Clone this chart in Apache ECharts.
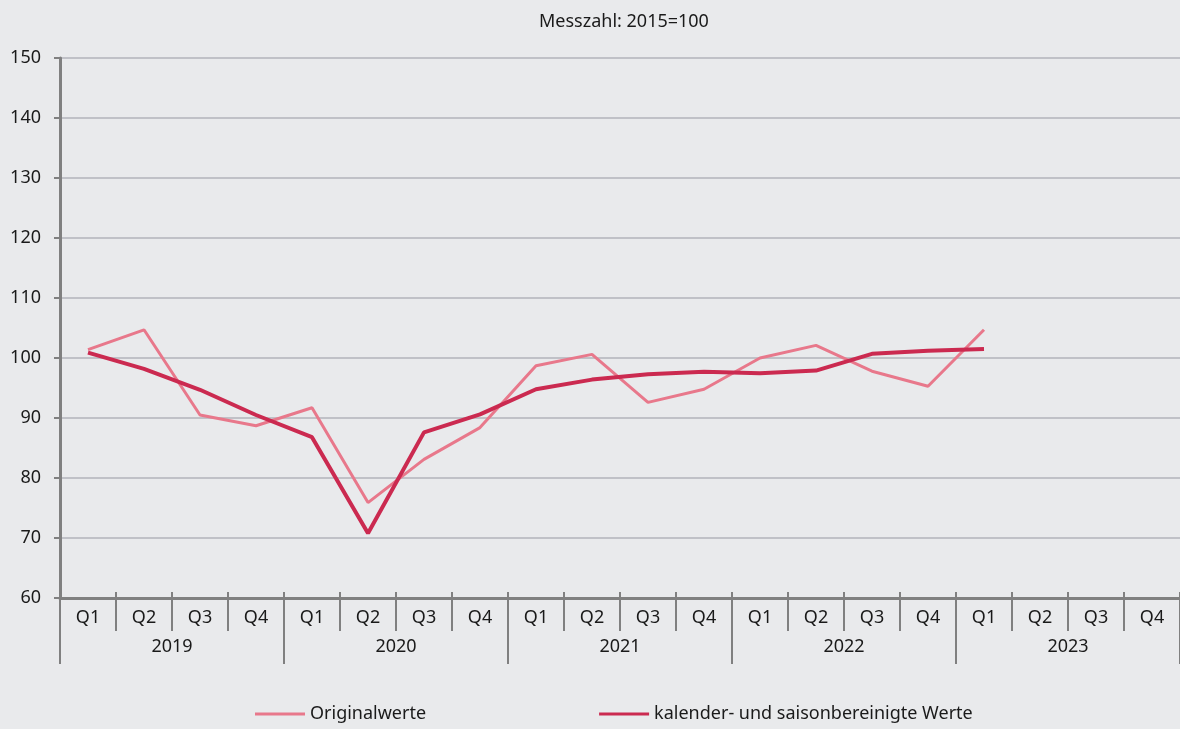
<!DOCTYPE html>
<html>
<head>
<meta charset="utf-8">
<script src="https://cdn.jsdelivr.net/npm/echarts@6/dist/echarts.min.js"></script>
<style>
  html, body { margin: 0; padding: 0; background: #e9eaec; }
  #chart { width: 1180px; height: 729px; }
</style>
</head>
<body>
<div id="chart"></div>
<script>
const quarters = [
  'Q1', 'Q2', 'Q3', 'Q4', 'Q1', 'Q2', 'Q3', 'Q4', 'Q1', 'Q2',
  'Q3', 'Q4', 'Q1', 'Q2', 'Q3', 'Q4', 'Q1', 'Q2', 'Q3', 'Q4'
]
const years = ['2019', '2020', '2021', '2022', '2023']
const originalwerte = [
  101.4, 104.7, 90.5, 88.7, 91.7, 75.9, 83.1, 88.4, 98.7, 100.6,
  92.6, 94.8, 100.0, 102.1, 97.8, 95.3, 104.7, null, null, null
]
const bereinigt = [
  100.9, 98.2, 94.7, 90.5, 86.8, 70.8, 87.6, 90.6, 94.8, 96.4,
  97.3, 97.7, 97.45, 97.9, 100.7, 101.2, 101.5, null, null, null
]

const font = 'Noto Sans'
const axisGrey = '#808080'
const textColor = '#1a1a1a'

const chart = echarts.init(document.getElementById('chart'))
chart.setOption({
  backgroundColor: '#e9eaec',
  textStyle: { fontFamily: font },
  title: {
    text: 'Messzahl: 2015=100',
    left: 534,
    top: 8,
    textStyle: { fontFamily: font, fontSize: 18, fontWeight: 'normal', color: textColor }
  },
  legend: {
    bottom: 1,
    left: 250,
    icon: 'rect',
    itemWidth: 50,
    itemHeight: 3,
    itemGap: 173,
    textStyle: { fontFamily: font, fontSize: 18, color: textColor },
    data: ['Originalwerte', 'kalender- und saisonbereinigte Werte']
  },
  grid: {
    left: 60,
    right: 0,
    top: 58,
    bottom: 131
  },
  xAxis: [{
    // quarter labels + axis line
    type: 'category',
    data: quarters,
    boundaryGap: true,
    axisLine: { lineStyle: { color: axisGrey, width: 3 } },
    axisTick: { show: false },
    axisLabel: { interval: 0, margin: 11, fontSize: 18, color: textColor, fontFamily: font },
    splitLine: { show: false }
  }, {
    // quarter separators, reaching a little above the axis
    type: 'category',
    data: quarters,
    position: 'bottom',
    offset: -6,
    boundaryGap: true,
    axisLine: { show: false },
    axisTick: { show: true, interval: 0, length: 39, lineStyle: { color: axisGrey, width: 2 } },
    axisLabel: { show: false },
    splitLine: { show: false }
  }, {
    // year separators + labels
    type: 'category',
    data: years,
    position: 'bottom',
    offset: -6,
    boundaryGap: true,
    axisLine: { show: false },
    axisTick: { show: true, interval: 0, length: 72, lineStyle: { color: axisGrey, width: 2 } },
    axisLabel: { interval: 0, margin: 46, fontSize: 18, color: textColor, fontFamily: font },
    splitLine: { show: false }
  }],
  yAxis: {
    type: 'value',
    min: 60,
    max: 150,
    interval: 10,
    axisLine: { show: true, lineStyle: { color: axisGrey, width: 3 } },
    axisTick: { show: true, length: 6, lineStyle: { color: axisGrey, width: 2 } },
    axisLabel: { margin: 19, fontSize: 18, color: textColor, fontFamily: font },
    splitLine: { lineStyle: { color: '#c0c1c7', width: 2 } }
  },
  series: [{
    name: 'Originalwerte',
    type: 'line',
    data: originalwerte,
    showSymbol: false,
    symbol: 'none',
    itemStyle: { color: '#e8788b' },
    lineStyle: { color: '#e8788b', width: 3 },
    z: 2
  }, {
    name: 'kalender- und saisonbereinigte Werte',
    type: 'line',
    data: bereinigt,
    showSymbol: false,
    symbol: 'none',
    itemStyle: { color: '#cb2a50' },
    lineStyle: { color: '#cb2a50', width: 4 },
    z: 3
  }]
})
</script>
</body>
</html>
